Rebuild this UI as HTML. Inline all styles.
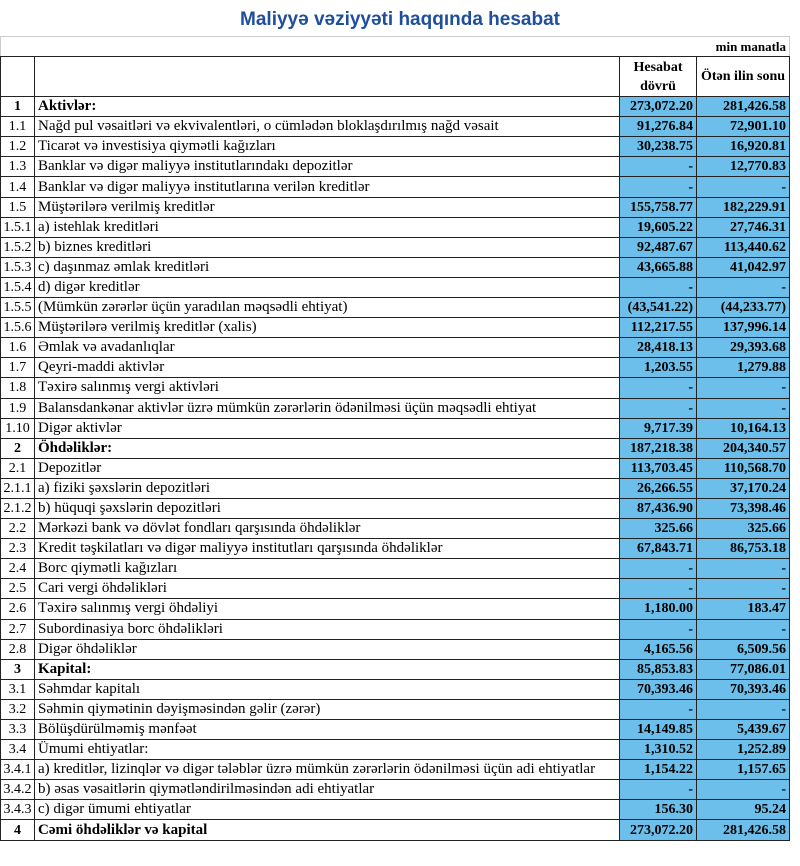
<!DOCTYPE html>
<html><head><meta charset="utf-8"><style>
body{margin:0;width:800px;height:866px;background:#fff;position:relative;overflow:hidden;font-family:"Liberation Serif",serif;}
h1{position:absolute;top:9px;left:0;width:800px;text-align:center;margin:0;font:bold 19px "Liberation Sans",sans-serif;color:#1f4e9c;}
table{position:absolute;top:36px;left:0;border-collapse:collapse;table-layout:fixed;width:789px;font-size:15px;}
td{border:1px solid #222;height:19.1px;padding:0 3px;white-space:nowrap;overflow:hidden;line-height:19px;}
td.n{text-align:center;font-size:14px;padding:0;}
td.v{text-align:right;background:#6cbfea;font-weight:bold;font-size:14px;}
tr.b td{font-weight:bold;}
tr.top td{border:1px solid #ccc;border-bottom:1px solid #222;text-align:right;font-weight:bold;font-size:13px;}
tr.h td{height:39px;text-align:center;font-weight:bold;line-height:19px;white-space:normal;font-size:14px;}
</style></head><body>
<h1>Maliyyə vəziyyəti haqqında hesabat</h1>
<table>
<colgroup><col style="width:34px"><col style="width:585px"><col style="width:77px"><col style="width:93px"></colgroup>
<tr class="top"><td colspan="4">min manatla</td></tr>
<tr class="h"><td></td><td></td><td>Hesabat dövrü</td><td>Ötən ilin sonu</td></tr>
<tr class="b"><td class="n">1</td><td>Aktivlər:</td><td class="v">273,072.20</td><td class="v">281,426.58</td></tr>
<tr><td class="n">1.1</td><td>Nağd pul vəsaitləri və  ekvivalentləri, o cümlədən bloklaşdırılmış nağd vəsait</td><td class="v">91,276.84</td><td class="v">72,901.10</td></tr>
<tr><td class="n">1.2</td><td>Ticarət və investisiya qiymətli kağızları</td><td class="v">30,238.75</td><td class="v">16,920.81</td></tr>
<tr><td class="n">1.3</td><td>Banklar və digər maliyyə institutlarındakı depozitlər</td><td class="v">-</td><td class="v">12,770.83</td></tr>
<tr><td class="n">1.4</td><td>Banklar və digər maliyyə institutlarına verilən kreditlər</td><td class="v">-</td><td class="v">-</td></tr>
<tr><td class="n">1.5</td><td>Müştərilərə verilmiş kreditlər</td><td class="v">155,758.77</td><td class="v">182,229.91</td></tr>
<tr><td class="n">1.5.1</td><td>a) istehlak kreditləri</td><td class="v">19,605.22</td><td class="v">27,746.31</td></tr>
<tr><td class="n">1.5.2</td><td>b) biznes kreditləri</td><td class="v">92,487.67</td><td class="v">113,440.62</td></tr>
<tr><td class="n">1.5.3</td><td>c) daşınmaz əmlak kreditləri</td><td class="v">43,665.88</td><td class="v">41,042.97</td></tr>
<tr><td class="n">1.5.4</td><td>d) digər kreditlər</td><td class="v">-</td><td class="v">-</td></tr>
<tr><td class="n">1.5.5</td><td>(Mümkün zərərlər üçün yaradılan məqsədli ehtiyat)</td><td class="v">(43,541.22)</td><td class="v">(44,233.77)</td></tr>
<tr><td class="n">1.5.6</td><td>Müştərilərə verilmiş kreditlər (xalis)</td><td class="v">112,217.55</td><td class="v">137,996.14</td></tr>
<tr><td class="n">1.6</td><td>Əmlak və avadanlıqlar</td><td class="v">28,418.13</td><td class="v">29,393.68</td></tr>
<tr><td class="n">1.7</td><td>Qeyri-maddi aktivlər</td><td class="v">1,203.55</td><td class="v">1,279.88</td></tr>
<tr><td class="n">1.8</td><td>Təxirə salınmış vergi aktivləri</td><td class="v">-</td><td class="v">-</td></tr>
<tr><td class="n">1.9</td><td>Balansdankənar aktivlər üzrə mümkün zərərlərin ödənilməsi üçün məqsədli ehtiyat</td><td class="v">-</td><td class="v">-</td></tr>
<tr><td class="n">1.10</td><td>Digər aktivlər</td><td class="v">9,717.39</td><td class="v">10,164.13</td></tr>
<tr class="b"><td class="n">2</td><td>Öhdəliklər:</td><td class="v">187,218.38</td><td class="v">204,340.57</td></tr>
<tr><td class="n">2.1</td><td>Depozitlər</td><td class="v">113,703.45</td><td class="v">110,568.70</td></tr>
<tr><td class="n">2.1.1</td><td>a) fiziki şəxslərin depozitləri</td><td class="v">26,266.55</td><td class="v">37,170.24</td></tr>
<tr><td class="n">2.1.2</td><td>b) hüquqi şəxslərin depozitləri</td><td class="v">87,436.90</td><td class="v">73,398.46</td></tr>
<tr><td class="n">2.2</td><td>Mərkəzi bank və dövlət fondları qarşısında öhdəliklər</td><td class="v">325.66</td><td class="v">325.66</td></tr>
<tr><td class="n">2.3</td><td>Kredit təşkilatları və digər maliyyə institutları qarşısında öhdəliklər</td><td class="v">67,843.71</td><td class="v">86,753.18</td></tr>
<tr><td class="n">2.4</td><td>Borc qiymətli kağızları</td><td class="v">-</td><td class="v">-</td></tr>
<tr><td class="n">2.5</td><td>Cari vergi öhdəlikləri</td><td class="v">-</td><td class="v">-</td></tr>
<tr><td class="n">2.6</td><td>Təxirə salınmış vergi öhdəliyi</td><td class="v">1,180.00</td><td class="v">183.47</td></tr>
<tr><td class="n">2.7</td><td>Subordinasiya borc öhdəlikləri</td><td class="v">-</td><td class="v">-</td></tr>
<tr><td class="n">2.8</td><td>Digər öhdəliklər</td><td class="v">4,165.56</td><td class="v">6,509.56</td></tr>
<tr class="b"><td class="n">3</td><td>Kapital:</td><td class="v">85,853.83</td><td class="v">77,086.01</td></tr>
<tr><td class="n">3.1</td><td>Səhmdar kapitalı</td><td class="v">70,393.46</td><td class="v">70,393.46</td></tr>
<tr><td class="n">3.2</td><td>Səhmin qiymətinin dəyişməsindən gəlir (zərər)</td><td class="v">-</td><td class="v">-</td></tr>
<tr><td class="n">3.3</td><td>Bölüşdürülməmiş mənfəət</td><td class="v">14,149.85</td><td class="v">5,439.67</td></tr>
<tr><td class="n">3.4</td><td>Ümumi ehtiyatlar:</td><td class="v">1,310.52</td><td class="v">1,252.89</td></tr>
<tr><td class="n">3.4.1</td><td>a) kreditlər, lizinqlər və digər tələblər üzrə mümkün zərərlərin ödənilməsi üçün adi ehtiyatlar</td><td class="v">1,154.22</td><td class="v">1,157.65</td></tr>
<tr><td class="n">3.4.2</td><td>b) əsas vəsaitlərin qiymətləndirilməsindən adi ehtiyatlar</td><td class="v">-</td><td class="v">-</td></tr>
<tr><td class="n">3.4.3</td><td>c) digər ümumi ehtiyatlar</td><td class="v">156.30</td><td class="v">95.24</td></tr>
<tr class="b"><td class="n">4</td><td>Cəmi öhdəliklər və kapital</td><td class="v">273,072.20</td><td class="v">281,426.58</td></tr>
</table>
</body></html>
